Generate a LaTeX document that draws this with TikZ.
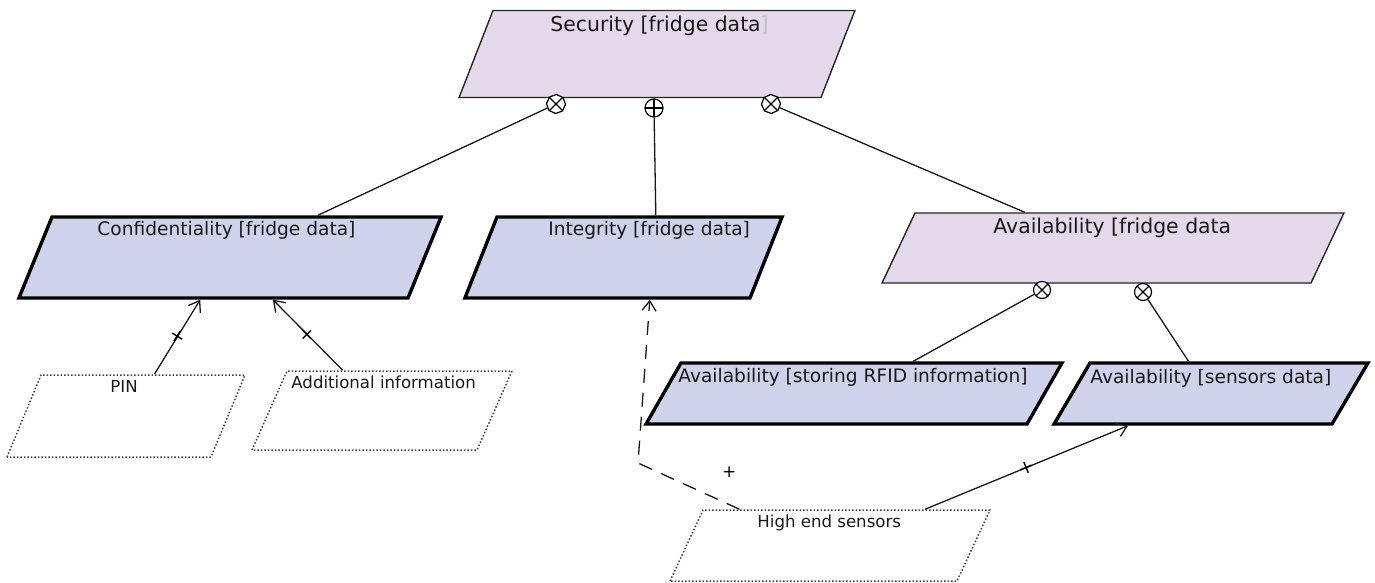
\documentclass[tikz,border=0pt]{standalone}
\usepackage{fontspec}
\setmainfont{DejaVu Sans}
\usetikzlibrary{shapes.geometric,arrows.meta,calc}
\definecolor{softpink}{RGB}{228,217,234}
\definecolor{goalblue}{RGB}{206,211,235}
\tikzset{
	softgoal/.style={trapezium,draw=black!85,line width=0.7pt,fill=softpink,inner sep=0pt,text depth=0pt},
	secgoal/.style={trapezium,draw=black,line width=1.7pt,fill=goalblue,inner sep=0pt,text depth=0pt},
	mech/.style={trapezium,draw=black!75,densely dotted,line width=0.75pt,inner sep=0pt,text depth=0pt},
	lbl/.style={inner sep=0pt,anchor=base west,text=black!90,font=\fontsize{9.3}{11}\selectfont},
	bigl/.style={lbl,font=\fontsize{10.2}{12}\selectfont},
	smalll/.style={lbl,font=\fontsize{8.3}{10}\selectfont},
	link/.style={line width=0.65pt,draw=black!90},
	tick/.style={sloped,inner sep=0pt,font=\fontsize{9.5}{9.5}\selectfont},
	orsym/.style={regular polygon,regular polygon sides=8,draw,fill=white,line width=0.6pt,inner sep=0pt,minimum size=9.5pt,
		path picture={\draw (path picture bounding box.north west)--(path picture bounding box.south east)
			(path picture bounding box.north east)--(path picture bounding box.south west);}},
	xorsym/.style={circle,draw,fill=white,line width=0.6pt,inner sep=0pt,minimum size=8.5pt,
		path picture={\draw (path picture bounding box.north west)--(path picture bounding box.south east)
			(path picture bounding box.north east)--(path picture bounding box.south west);}},
	andsym/.style={circle,draw,fill=white,line width=0.6pt,inner sep=0pt,minimum size=9pt,
		path picture={\draw (path picture bounding box.north)--(path picture bounding box.south)
			(path picture bounding box.east)--(path picture bounding box.west);}}
}
\begin{document}
\begin{tikzpicture}[x=0.5pt,y=-0.5pt,>={Straight Barb[length=5pt,width=7pt]}]
	\useasboundingbox (0,0) rectangle (1375,583);
	% goals
	\node[softgoal,trapezium left angle=68.7,trapezium right angle=111.3,text width=164pt,text height=43.5pt] (sec) at (657,54) {};
	\node[secgoal,trapezium left angle=67.8,trapezium right angle=112.2,text width=178pt,text height=40.5pt] (conf) at (230,257.5) {};
	\node[secgoal,trapezium left angle=68.4,trapezium right angle=111.6,text width=126.5pt,text height=40.5pt] (integ) at (623.5,257.5) {};
	\node[softgoal,trapezium left angle=64.8,trapezium right angle=115.2,text width=198pt,text height=35pt] (avail) at (1113,248) {};
	\node[secgoal,trapezium left angle=60.2,trapezium right angle=119.8,text width=173pt,text height=30.5pt] (rfid) at (854,393.5) {};
	\node[secgoal,trapezium left angle=59.5,trapezium right angle=120.5,text width=121pt,text height=30.5pt] (sens) at (1211,393.5) {};
	% mechanisms
	\node[mech,trapezium left angle=67.5,trapezium right angle=112.5,text width=85pt,text height=41pt] (pin) at (126,416) {};
	\node[mech,trapezium left angle=66.1,trapezium right angle=113.9,text width=95pt,text height=39.5pt] (addinfo) at (382,410.5) {};
	\node[mech,trapezium left angle=65.1,trapezium right angle=114.9,text width=127pt,text height=35.5pt] (hes) at (830,545.5) {};
	% texts
	\node[bigl] (sec-t) at (550,32) {Security [fridge data\textcolor{black!25}{]}};
	\node[lbl] (conf-t) at (97,235) {Confidentiality [fridge data]};
	\node[lbl] (integ-t) at (548,235) {Integrity [fridge data]};
	\node[bigl] (avail-t) at (993,233) {Availability [fridge data};
	\node[lbl] (rfid-t) at (678,382) {Availability [storing RFID information]};
	\node[lbl] (sens-t) at (1090,383) {Availability [sensors data]};
	\node[smalll] (pin-t) at (110,392) {PIN};
	\node[smalll] (addinfo-t) at (291,388) {Additional information};
	\node[smalll] (hes-t) at (757,527) {High end sensors};
	% decompositions
	\node[orsym,rotate=20] (s1) at (556,104) {};
	\node[andsym] (s2) at (654,108) {};
	\node[orsym,rotate=-20] (s3) at (771,104) {};
	\node[xorsym] (s4) at (1042,290) {};
	\node[xorsym] (s5) at (1143,292) {};
	\draw[link] (s1) -- ($(conf.top left corner)!0.68!(conf.top right corner)$);
	\draw[link] (s2) -- ($(integ.top left corner)!0.554!(integ.top right corner)$);
	\draw[link] (s3) -- ($(avail.top left corner)!0.256!(avail.top right corner)$);
	\draw[link] (s4) -- ($(rfid.top left corner)!0.606!(rfid.top right corner)$);
	\draw[link] (s5) -- ($(sens.top left corner)!0.353!(sens.top right corner)$);
	% contributions
	\draw[link,->] ($(pin.top left corner)!0.554!(pin.top right corner)$) -- node[tick]{+} ($(conf.bottom left corner)!0.468!(conf.bottom right corner)$);
	\draw[link,->] ($(addinfo.top left corner)!0.248!(addinfo.top right corner)$) -- node[tick]{+} ($(conf.bottom left corner)!0.653!(conf.bottom right corner)$);
	\draw[link,->] ($(hes.top left corner)!0.771!(hes.top right corner)$) -- node[tick]{+} ($(sens.bottom left corner)!0.273!(sens.bottom right corner)$);
	\coordinate (bend) at (638,463);
	\draw[link,->,dash pattern=on 7pt off 5pt] ($(hes.top left corner)!0.128!(hes.top right corner)$) -- node[pos=0.1,yshift=16pt,inner sep=0pt,font=\fontsize{8.5}{8.5}\selectfont]{+} (bend) -- ($(integ.bottom left corner)!0.649!(integ.bottom right corner)$);
\end{tikzpicture}
\end{document}
